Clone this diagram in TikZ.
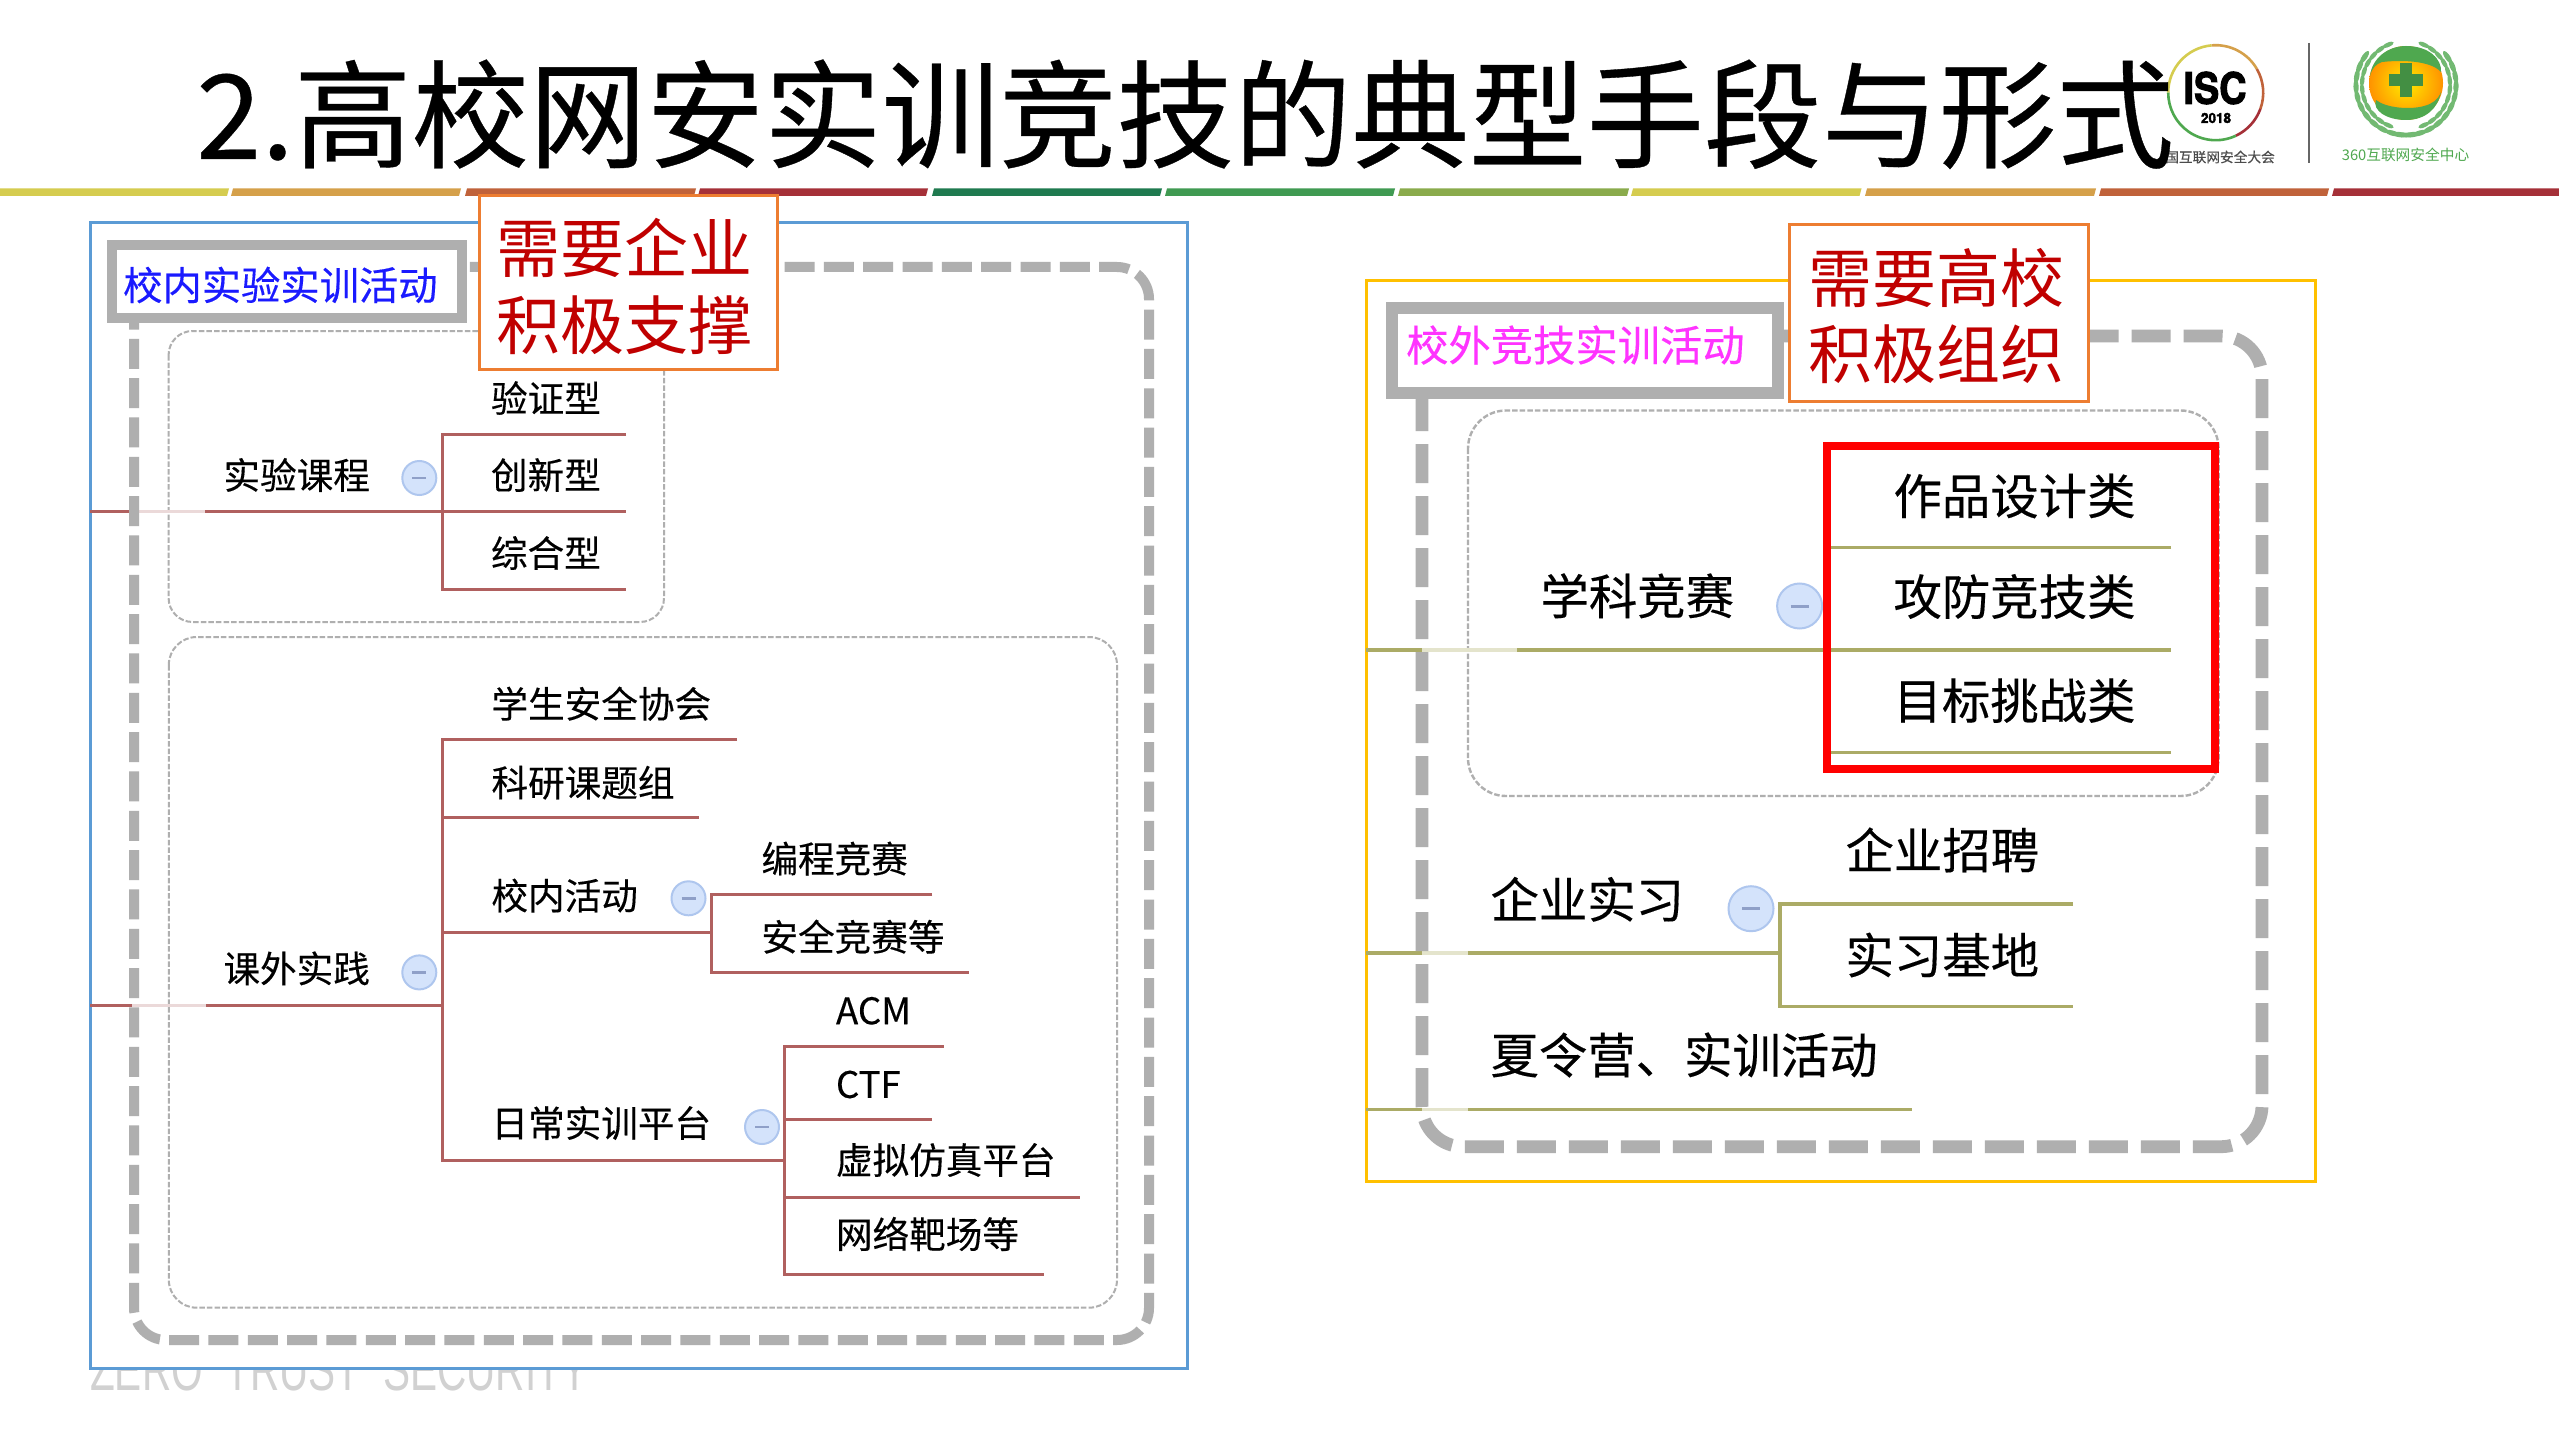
\documentclass[tikz,border=0pt]{standalone}
\usepackage{fontspec}
\usepackage{graphicx}
\usetikzlibrary{calc}
\setmainfont{Noto Sans CJK SC}
\newfontfamily\lblfont[FakeBold=0.3]{Noto Sans CJK SC}
\newfontfamily\herosfat[BoldFeatures={FakeBold=2.5}]{TeX Gyre Heros}
\newfontfamily\libsans{Liberation Sans}
\definecolor{stripY}{HTML}{D5CC4F}
\definecolor{stripG}{HTML}{D5A04A}
\definecolor{stripO}{HTML}{C0623A}
\definecolor{stripR}{HTML}{A53038}
\definecolor{stripD}{HTML}{1F7A4F}
\definecolor{stripM}{HTML}{409A52}
\definecolor{stripL}{HTML}{8AAB4C}
\definecolor{grayline}{HTML}{AFAFAF}
\definecolor{redline}{HTML}{B0605F}
\definecolor{redfade}{HTML}{EBD9D9}
\definecolor{oliveline}{HTML}{ABAB66}
\definecolor{olivefade}{HTML}{E4E4CC}
\definecolor{orangebox}{HTML}{ED7D31}
\definecolor{bluebox}{HTML}{5B9BD5}
\definecolor{yellowbox}{HTML}{FFC000}
\definecolor{darkred}{HTML}{C00000}
\definecolor{logogreen}{HTML}{4FA84F}
\definecolor{folderfill}{HTML}{D4E3FB}
\definecolor{folderline}{HTML}{AEC6EE}
\definecolor{folderminus}{HTML}{8FA0C8}
\tikzset{
  fsz/.style={font=\fontsize{#1}{#1}\selectfont},
  txt/.style={anchor=west,inner sep=0pt,outer sep=0pt,text=black,font=\fontsize{#1}{#1}\lblfont},
  lbl/.style={txt=36.6},
  lblb/.style={txt=48.4},
  banner/.style={draw=grayline,fill=white,line width=#1},
  outerdash/.style={draw=grayline,line width=10pt,dash pattern=on 30pt off 9.33pt},
  outerdashb/.style={draw=grayline,line width=12.8pt,dash pattern=on 39pt off 13pt},
  innerdash/.style={draw=grayline,line width=2pt,dash pattern=on 5.5pt off 2.1pt},
  rl/.style={draw=redline,line width=3pt},
  rf/.style={draw=redfade,line width=3pt},
  ol/.style={draw=oliveline,line width=3.4pt},
  of/.style={draw=olivefade,line width=3.4pt},
  callout/.style={draw=orangebox,fill=white,line width=3pt},
  calltext/.style={anchor=center,inner sep=0pt,text=darkred,fsz=64},
  folder/.style={circle,draw=folderline,fill=folderfill,line width=2pt,inner sep=0pt},
  minusbar/.style={draw=folderminus,line width=2.5pt},
  ringseg/.style={line width=2.6pt,draw=#1},
  leaf/.style={fill=logogreen!80!white},
}
\begin{document}
\begin{tikzpicture}[x=1pt,y=-1pt,line join=miter]
\useasboundingbox (0,0) rectangle (2559,1439);
\fill[white] (0,0) rectangle (2559,1439);

% header strip
\foreach \xa/\xb/\c in {-5/228/stripY,232/460/stripG,466/695/stripO,699/927/stripR,933/1161/stripD,1166/1394/stripM,1399/1628/stripL,1632/1860.5/stripY,1866/2095/stripG,2100/2328/stripO,2333/2565/stripR}
  \fill[\c] (\xa-1,196) -- (\xb-1,196) -- (\xb+1,188.5) -- (\xa+1,188.5) -- cycle;

% footer behind box
\node[anchor=south west,inner sep=0pt,text=black!18] (footer) at (90,1391)
  {\resizebox{498pt}{42pt}{\libsans ZERO\ \ TRUST\ \ SECURITY}};

% ISC logo
\foreach \s/\e/\c in {180/265/stripY,265/330/stripG,330/380/stripO,380/425/stripR,425/540/logogreen}
  \draw[ringseg=\c] (2215.7,92.7) ++(\s:47.5) arc[start angle=\s,end angle=\e,radius=47.5];
\node[anchor=center,inner sep=0pt] (isc) at (2215,88) {\resizebox{63pt}{32pt}{\herosfat\bfseries ISC}};
\node[anchor=center,inner sep=0pt] (iscy) at (2216,118) {\resizebox{30pt}{10pt}{\herosfat\bfseries 2018}};
\node[anchor=east,inner sep=0pt,font=\fontsize{13.7}{13.7}\lblfont,text=black!70] (iscname) at (2275,157) {国互联网安全大会};
\draw[line width=2.6pt,draw=black!60] (2309,43) -- (2309,163);

% 360 logo
\foreach \a in {-80,-68,...,52}{
  \fill[leaf,rotate around={\a-18:(2406,85)}] (2456,85) ellipse (2.6 and 7);
  \fill[leaf,rotate around={\a+14:(2406,85)}] (2450,85) ellipse (2.2 and 6);
  \fill[leaf,rotate around={180-\a+18:(2406,85)}] (2456,85) ellipse (2.6 and 7);
  \fill[leaf,rotate around={180-\a-14:(2406,85)}] (2450,85) ellipse (2.2 and 6);
}
\fill[white] (2406,83) circle (39.5);
\shade[inner color=yellow!85!orange,outer color=orange!85!yellow] (2406,83) circle (37);
\fill[logogreen] (2406,46) .. controls (2430,46) and (2442,60) .. (2441,72) .. controls (2430,60) and (2400,60) .. (2382,62) .. controls (2376,64) and (2372,68) .. (2370,76) .. controls (2372,58) and (2388,46) .. (2406,46) -- cycle;
\fill[logogreen] (2406,120) .. controls (2386,120) and (2372,110) .. (2376,100) .. controls (2386,108) and (2410,110) .. (2424,106) .. controls (2432,104) and (2438,100) .. (2441,92) .. controls (2438,108) and (2426,120) .. (2406,120) -- cycle;
\draw[logogreen!85!black,line width=12pt] (2406,63) -- (2406,97) (2389,80) -- (2423,80);
\node[anchor=center,inner sep=0pt,fsz=14.7,text=logogreen] (name360) at (2405.5,155) {360互联网安全中心};

% title
\node[anchor=base west,inner sep=0pt,font=\fontsize{117.5}{117.5}\lblfont,text=black] (title) at (196,159) {2.高校网安实训竞技的典型手段与形式};

% left panel
\draw[draw=bluebox,fill=white,line width=3pt] (90,223) rectangle (1187,1368);
\draw[innerdash,rounded corners=24pt] (168.6,331) rectangle (664,622);
\draw[innerdash,rounded corners=28pt] (168.8,637) rectangle (1117,1307.7);

% left tree coordinates
\foreach \n/\x/\y in {
 a0/90/511.7, a1/132/511.7, a2/205/511.7, a3/442/511.7, a4/626/511.7,
 au/442/434, aue/626/434, ad/442/589, ade/626/589,
 b0/90/1005.4, b1/132/1005.4, b2/206/1005.4, b3/442/1005.4,
 bt/442/739.8, bte/737/739.8, bk/442/817.5, bke/699/817.5, bx/442/932, bxj/711/932,
 bd/442/1160, bdj/784.5/1160,
 xu/711/894.7, xue/932.3/894.7, xd/711/972.4, xde/969/972.4,
 r1/784.5/1046, r1e/943.7/1046, r2/784.5/1119.7, r2e/932/1119.7,
 r3/784.5/1197.4, r3e/1080/1197.4, r4/784.5/1274.6, r4e/1043.5/1274.6}
 {\coordinate (\n) at (\x,\y);}

\draw[rl] (a0) -- (a1);
\draw[rf] (a1) -- (a2);
\draw[rl] (a2) -- (a3) -- (a4);
\draw[rl] (aue) -- (au) -- (ad) -- (ade);
\draw[rl] (b0) -- (b1);
\draw[rf] (b1) -- (b2);
\draw[rl] (b2) -- (b3);
\draw[rl] (bte) -- (bt) -- (bd) -- (bdj);
\draw[rl] (bk) -- (bke);
\draw[rl] (bx) -- (bxj);
\draw[rl] (xue) -- (xu) -- (xd) -- (xde);
\draw[rl] (r1e) -- (r1) -- (r4) -- (r4e);
\draw[rl] (r2) -- (r2e);
\draw[rl] (r3) -- (r3e);

\node[lbl] (n1) at (491,398) {验证型};
\node[lbl] (n2) at (491,475) {创新型};
\node[lbl] (n3) at (491,553) {综合型};
\node[lbl] (n4) at (223.5,475) {实验课程};
\node[lbl] (n5) at (223.5,968.4) {课外实践};
\node[lbl] (n6) at (491.5,703.7) {学生安全协会};
\node[lbl] (n7) at (491.5,782.7) {科研课题组};
\node[lbl] (n8) at (491.5,895.6) {校内活动};
\node[lbl] (n9) at (491.5,1123) {日常实训平台};
\node[lbl] (n10) at (761.5,858.6) {编程竞赛};
\node[lbl] (n11) at (761.5,936.7) {安全竞赛等};
\node[lbl] (n12) at (836,1010.8) {ACM};
\node[lbl] (n13) at (836,1084.5) {CTF};
\node[lbl] (n14) at (836,1160) {虚拟仿真平台};
\node[lbl] (n15) at (836,1234) {网络靶场等};

\foreach \n/\x/\y in {f1/419.3/478,f2/419.3/972.4,f3/688.5/898.3,f4/762/1127}{
  \node[folder,minimum size=34pt] (\n) at (\x,\y) {};
  \draw[minusbar] ($(\n)+(-7,0)$) -- ($(\n)+(7,0)$);
}

\draw[outerdash,rounded corners=32pt] (134,299.5) -- (134,1340) -- (1149,1340) -- (1149,267) -- (440,267);
\draw[banner=10pt] (112,245) rectangle (462,318);
\node[anchor=west,inner sep=0pt,text={rgb,255:red,26;green,26;blue,255},font=\fontsize{39.3}{39.3}\lblfont] (t1) at (123,285) {校内实验实训活动};

\draw[callout] (479,196) rectangle (777,369);
\node[calltext] (c1) at (624,248) {需要企业};
\node[calltext] (c2) at (624,325) {积极支撑};

% right panel
\draw[draw=yellowbox,fill=white,line width=3pt] (1366,281) rectangle (2315,1181.7);
\draw[innerdash,line width=2.4pt,rounded corners=38pt] (1468,410.5) rectangle (2218.6,796);

\foreach \n/\x/\y in {
 c0/1366/650, c1a/1422/650, c2a/1517/650, c3/1827/650, c4/2171/650,
 cu/1827/547.5, cue/2171/547.5, cd/1827/752.7, cde/2171/752.7,
 d0/1366/953, d1/1422/953, d2/1468/953, d3/1780/953,
 du/1780/904, due/2073/904, dd/1780/1006.7, dde/2073/1006.7,
 e0/1366/1109.3, e1/1422/1109.3, e2/1468/1109.3, e3/1912/1109.3}
 {\coordinate (\n) at (\x,\y);}

\draw[ol] (c0) -- (c1a);
\draw[of] (c1a) -- (c2a);
\draw[ol] (c2a) -- (c3) -- (c4);
\draw[ol] (cue) -- (cu) -- (cd) -- (cde);
\draw[ol] (d0) -- (d1);
\draw[of] (d1) -- (d2);
\draw[ol] (d2) -- (d3);
\draw[ol] (due) -- (du) -- (dd) -- (dde);
\draw[ol] (e0) -- (e1);
\draw[of] (e1) -- (e2);
\draw[ol] (e2) -- (e3);

\node[lblb] (m1) at (1893.5,496) {作品设计类};
\node[lblb] (m2) at (1893.5,596.5) {攻防竞技类};
\node[lblb] (m3) at (1893.5,700.6) {目标挑战类};
\node[lblb] (m4) at (1540.5,595.8) {学科竞赛};
\node[lblb] (m5) at (1490.5,899.3) {企业实习};
\node[lblb] (m6) at (1845.5,850) {企业招聘};
\node[lblb] (m7) at (1845.5,955) {实习基地};
\node[lblb] (m8) at (1490.5,1055) {夏令营、实训活动};

\foreach \n/\x/\y in {g1/1799.6/606,g2/1751/908.7}{
  \node[folder,minimum size=45pt] (\n) at (\x,\y) {};
  \draw[minusbar,line width=3pt] ($(\n)+(-9,0)$) -- ($(\n)+(9,0)$);
}

\draw[draw=red,line width=8pt] (1827,446.3) rectangle (2214.6,768.6);

\draw[outerdashb,rounded corners=41pt] (1422,340) -- (1422,1146.7) -- (2262,1146.7) -- (2262,336) -- (1500,336);
\draw[banner=12pt] (1392,308) rectangle (1778,393);
\node[anchor=west,inner sep=0pt,text={rgb,255:red,255;green,51;blue,255},font=\fontsize{42.3}{42.3}\lblfont] (t2) at (1406,345) {校外竞技实训活动};

\draw[callout] (1789,225) rectangle (2088.5,401);
\node[calltext] (c3t) at (1936,278) {需要高校};
\node[calltext] (c4t) at (1936,354.7) {积极组织};
\end{tikzpicture}
\end{document}
